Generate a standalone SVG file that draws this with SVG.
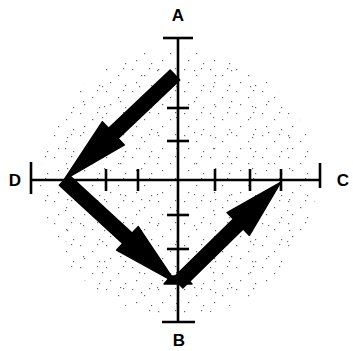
<svg xmlns="http://www.w3.org/2000/svg" width="353" height="351" viewBox="0 0 353 351">
<style>
.axis{stroke:#000;stroke-width:2.6;fill:none;stroke-linecap:butt}
.tick{stroke:#000;stroke-width:2.6}
.arrow{fill:#000;stroke:#000;stroke-width:1.4;stroke-linejoin:round}
.lbl{font-family:"Liberation Sans",Arial,sans-serif;font-weight:bold;font-size:17px;fill:#000;text-anchor:middle}
</style>
<defs>
<pattern id="stip" width="26" height="22" patternUnits="userSpaceOnUse">
<rect x="2" y="3" width="1.2" height="1.2" fill="#666"/>
<rect x="14" y="9" width="1.2" height="1.2" fill="#666"/>
<rect x="6" y="16" width="1.2" height="1.2" fill="#666"/>
<rect x="21" y="19" width="1.2" height="1.2" fill="#666"/>
<rect x="19" y="2" width="1.2" height="1.2" fill="#666"/>
</pattern>
<pattern id="stip2" width="37" height="31" patternUnits="userSpaceOnUse">
<rect x="9" y="8" width="1.2" height="1.2" fill="#666"/>
<rect x="28" y="24" width="1.2" height="1.2" fill="#666"/>
<rect x="30" y="13" width="1.2" height="1.2" fill="#666"/>
</pattern>
</defs>
<g id="background">
<ellipse cx="178" cy="182" rx="138" ry="134" fill="url(#stip)"/>
<ellipse cx="178" cy="182" rx="128" ry="124" fill="url(#stip2)"/>
</g>
<g id="axes">
<line class="axis" x1="178" y1="38" x2="178" y2="322"/>
<line class="axis" x1="31" y1="180" x2="320" y2="180"/>
<line class="tick" x1="163" y1="38" x2="193" y2="38"/>
<line class="tick" x1="162" y1="322" x2="195" y2="322"/>
<line class="tick" x1="31" y1="162" x2="31" y2="194"/>
<line class="tick" x1="320" y1="163" x2="320" y2="188"/>
<g id="ticks">
<line class="tick" x1="167" y1="108" x2="189" y2="108"/>
<line class="tick" x1="167" y1="141" x2="189" y2="141"/>
<line class="tick" x1="167" y1="215" x2="189" y2="215"/>
<line class="tick" x1="167" y1="249" x2="189" y2="249"/>
<line class="tick" x1="106" y1="169" x2="106" y2="191"/>
<line class="tick" x1="138" y1="169" x2="138" y2="191"/>
<line class="tick" x1="215" y1="169" x2="215" y2="191"/>
<line class="tick" x1="250" y1="169" x2="250" y2="191"/>
<line class="tick" x1="281" y1="169" x2="281" y2="191"/>
</g>
</g>
<g id="connectors">
<polygon id="arrow-1" class="arrow" points="179.8,80.1 118.2,138.4 124.4,144.9 64,180 102.4,121.7 108.6,128.2 170.2,69.9"/>
<polygon id="arrow-2" class="arrow" points="68.7,174.8 132.1,233.1 138.3,226.6 176,283 116.6,250.1 122.7,243.5 59.3,185.2"/>
<polygon id="arrow-3" class="arrow" points="173.1,278 233.3,219 227,212.6 281,182 249.4,235.4 243.1,229 182.9,288"/>
<polygon id="joint-b" class="arrow" points="164,284 192,284 185,276 171,276"/>
</g>
<g id="node-A"><text class="lbl" x="178" y="21">A</text></g>
<g id="node-B"><text class="lbl" x="179" y="346">B</text></g>
<g id="node-C"><text class="lbl" x="343" y="186">C</text></g>
<g id="node-D"><text class="lbl" x="15" y="186">D</text></g>
</svg>
